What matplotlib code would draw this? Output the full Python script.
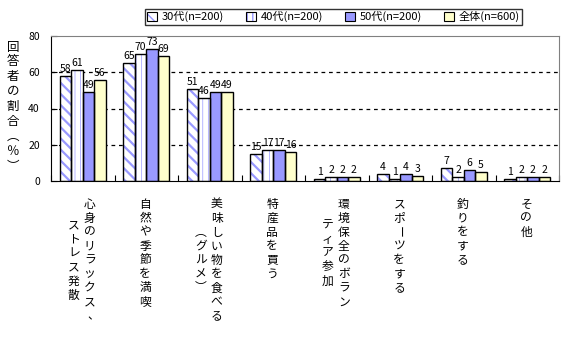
import matplotlib
matplotlib.use("Agg")
import matplotlib.pyplot as plt
from matplotlib.patches import Patch
from matplotlib.legend_handler import HandlerTuple
import numpy as np

plt.rcParams['font.family'] = ['Noto Sans CJK JP', 'DejaVu Sans']

# ---- data ----
categories = [["心身のリラックス、", "ストレス発散"],
              ["自然や季節を満喫"],
              ["美味しい物を食べる", "（グルメ）"],
              ["特産品を買う"],
              ["環境保全のボラン", "ティア参加"],
              ["スポーツをする"],
              ["釣りをする"],
              ["その他"]]
series = ["30代(n=200)", "40代(n=200)", "50代(n=200)", "全体(n=600)"]
v30 = [58, 65, 51, 15, 1, 4, 7, 1]
v40 = [61, 70, 46, 17, 2, 1, 2, 2]
v50 = [49, 73, 49, 17, 2, 4, 6, 2]
vall = [56, 69, 49, 16, 2, 3, 5, 2]
ylabel = "回答者の割合（％）"

BLUE = "#9999FF"
styles = [  # face, hatch, hatch colour, hatch lw
    ("white", "\\\\\\", BLUE, 1.6),
    ("white", "|||", "#9999FF", 0.5),
    (BLUE, None, None, 0),
    ("#FFFFCC", None, None, 0),
]
VERT = {"（": "\ufe35", "）": "\ufe36"}   # vertical presentation forms
ROT = {"ー": -90}

W, H = 579, 345
fig = plt.figure(figsize=(W / 100, H / 100), dpi=100, facecolor="white")
ax = fig.add_axes([51 / W, 1 - 181 / H, (559 - 51) / W, (181 - 36) / H])

x = np.arange(len(categories))
bw = 0.18
handles = []
for k, vals in enumerate([v30, v40, v50, vall]):
    face, hatch, hc, hlw = styles[k]
    pos = x + (k - 1.5) * bw
    with plt.rc_context({"hatch.linewidth": hlw if hlw else 1.0}):
        ax.bar(pos, vals, bw, color=face, edgecolor=hc if hc else face, hatch=hatch, lw=0, zorder=2)
        hp = Patch(facecolor=face, edgecolor=hc if hc else face, hatch=hatch, lw=0)
    ax.bar(pos, vals, bw, color="none", edgecolor="black", lw=1.0, zorder=3)
    handles.append((hp, Patch(facecolor="none", edgecolor="black", lw=0.8)))
    for p, v in zip(pos, vals):
        ax.annotate(str(v), (p, v), xytext=(0, 2), textcoords="offset pixels",
                    ha="center", va="bottom", fontsize=7.5, zorder=4)

ax.set_xlim(-0.5, len(categories) - 0.5)
ax.set_ylim(0, 80)
ax.set_yticks([0, 20, 40, 60, 80])
ax.tick_params(axis="y", direction="in", length=4, labelsize=7.5, pad=8)
ax.set_xticks(np.arange(len(categories) + 1) - 0.5)
ax.set_xticklabels([])
ax.tick_params(axis="x", direction="in", length=4)
for yv in (20, 40, 60):
    ax.axhline(yv, color="black", lw=0.9, ls=(0, (3, 3)), zorder=1)
ax.spines["top"].set_color("#808080")
ax.spines["right"].set_color("#808080")

# vertical category labels (columns right to left, centred on each other)
CH = 14
for i, cols in enumerate(categories):
    L = max(len(c) for c in cols)
    n = len(cols)
    for j, col in enumerate(cols):
        dx = ((n - 1) / 2 - j) * 16 - 1
        y0 = 23 + (L - len(col)) / 2 * CH
        for m, ch in enumerate(col):
            ex, ey = (4, 0) if ch == "、" else (0, 0)
            ax.annotate(VERT.get(ch, ch), (i, 0), xycoords=("data", "axes fraction"),
                        xytext=(dx + ex, -(y0 + m * CH) + ey), textcoords="offset pixels",
                        ha="center", va="center", fontsize=8.5, rotation=ROT.get(ch, 0),
                        annotation_clip=False)

# vertical y label
for m, ch in enumerate(ylabel):
    fig.text(13 / W, 1 - (47 + m * 14.9) / H, VERT.get(ch, ch), ha="center", va="center",
             fontsize=9, rotation=ROT.get(ch, 0))

leg = fig.legend(handles, series, handler_map={tuple: HandlerTuple(ndivide=1, pad=0)},
                 ncol=4, loc="upper left", bbox_to_anchor=(145 / W, 1 - 9 / H),
                 fontsize=8, frameon=True, fancybox=False, handlelength=0.9, handleheight=0.9,
                 handletextpad=0.4, columnspacing=2.0, borderpad=0.2, borderaxespad=0)
leg.get_frame().set_edgecolor("black")
leg.get_frame().set_linewidth(1.0)

fig.savefig("out.png", dpi=100, facecolor="white")
